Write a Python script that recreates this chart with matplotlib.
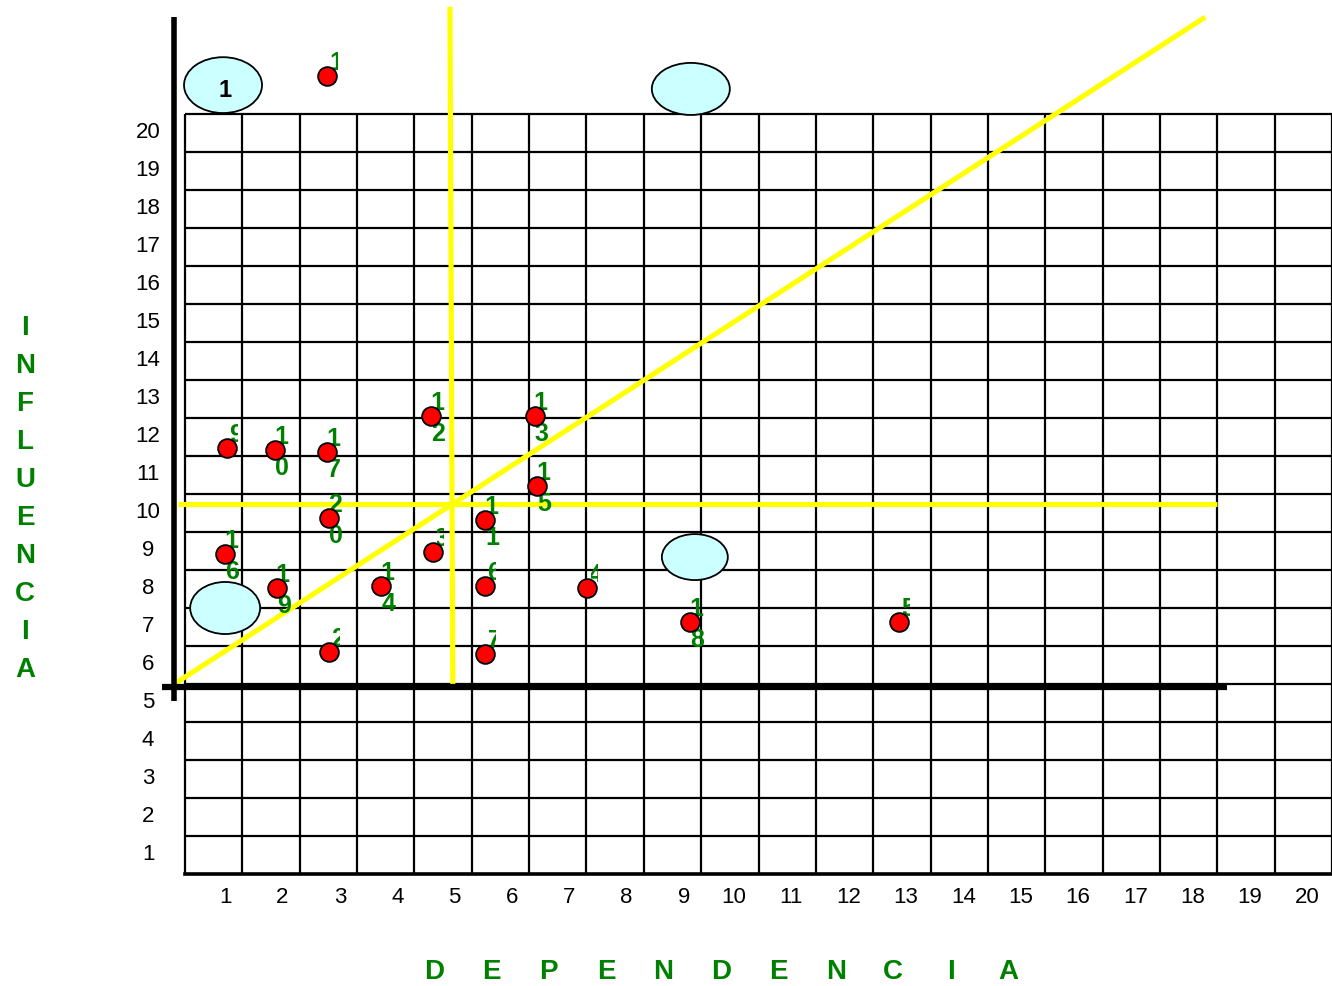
import matplotlib
matplotlib.use('Agg')
import matplotlib.pyplot as plt
from matplotlib.patches import Ellipse
from matplotlib.transforms import Bbox, TransformedBbox

plt.rcParams['font.family'] = ['Liberation Sans', 'DejaVu Sans']

# ---------------- data ----------------
var_labels = ["1", "9", "10", "17", "12", "13", "15", "11", "20", "3",
              "16", "19", "14", "6", "4", "2", "7", "18", "5"]
dependencia = [2.48, 0.73, 1.57, 2.48, 4.29, 6.10, 6.14, 5.23, 2.51, 4.32,
               0.70, 1.60, 3.42, 5.23, 7.01, 2.51, 5.23, 8.81, 12.45]
influencia = [21.0, 11.21, 11.16, 11.10, 12.05, 12.05, 10.21, 9.32, 9.37, 8.47,
              8.42, 7.53, 7.58, 7.58, 7.53, 5.84, 5.79, 6.63, 6.63]

x_ticks = list(range(1, 21))
y_ticks = list(range(1, 21))
x_title = "D E P E N D E N C I A"
y_title = "INFLUENCIA"

# threshold / reference lines (data units)
h_line_y = 9.74
v_line = ((4.62, 22.82), (4.67, 4.97))
diag = ((-0.157, 5.03), (17.79, 22.55))

# ellipses: (x, y, w, h, text)
ellipses = [(0.663, 20.76, 1.36, 1.47, "1"),
            (8.82, 20.66, 1.36, 1.37, ""),
            (8.89, 8.34, 1.15, 1.21, ""),
            (0.70, 7.00, 1.22, 1.37, "")]

# ---------------- figure ----------------
W, H = 1332, 987
fig = plt.figure(figsize=(W / 100, H / 100), dpi=100)
ax = fig.add_axes([185 / W, (H - 875) / H, (1332 - 185) / W, 760 / H])
ax.set_xlim(0, 20)
ax.set_ylim(0, 20)
ax.set_axis_off()

px_x = 20 / (1332 - 185)  # data per pixel horizontally
px_y = 20 / 760

GREEN = '#008000'

# grid
for i in range(0, 21):
    ax.plot([i, i], [0, 20], color='black', lw=1.6, zorder=1, clip_on=False,
            solid_capstyle='butt')
for j in range(1, 21):
    ax.plot([0, 20], [j, j], color='black', lw=1.6, zorder=1, clip_on=False,
            solid_capstyle='butt')
ax.plot([0, 20], [0, 0], color='black', lw=2.6, zorder=1, clip_on=False)

# black main axes
ax.plot([-0.19, -0.19], [4.55, 22.55], color='black', lw=4, zorder=5,
        clip_on=False, solid_capstyle='butt')
ax.plot([-0.40, 18.17], [4.92, 4.92], color='black', lw=4.5, zorder=5,
        clip_on=False, solid_capstyle='butt')

# yellow lines
YEL = '#FFFF00'
ax.plot([v_line[0][0], v_line[1][0]], [v_line[0][1], v_line[1][1]],
        color=YEL, lw=3.7, zorder=2, clip_on=False, solid_capstyle='butt')
ax.plot([-0.12, 18.0], [h_line_y, h_line_y], color=YEL, lw=3.7, zorder=2,
        clip_on=False, solid_capstyle='butt')
ax.plot([diag[0][0], diag[1][0]], [diag[0][1], diag[1][1]], color=YEL,
        lw=3.7, zorder=2, clip_on=False, solid_capstyle='butt')

# ellipses
for ex, ey, ew, eh, et in ellipses:
    e = Ellipse((ex, ey), ew, eh, facecolor='#CCFFFF', edgecolor='black',
                lw=1.3, zorder=3, clip_on=False)
    ax.add_patch(e)
    if et:
        ax.text(ex + 2 * px_x, ey - 4 * px_y, et, ha='center', va='center',
                fontsize=17, fontweight='bold', color='black', zorder=4,
                clip_on=False)

# points
ax.plot(dependencia, influencia, 'o', ms=13.5, mfc='#FF0000', mec='black',
        mew=1.3, zorder=6, clip_on=False, linestyle='none')

# labels
for lab, x, y in zip(var_labels, dependencia, influencia):
    if len(lab) == 2:
        ax.text(x + 6 * px_x, y + 14 * px_y, lab[0], ha='center', va='center',
                fontsize=18, fontweight='bold', color=GREEN, zorder=5, clip_on=False)
        ax.text(x + 7 * px_x, y - 17 * px_y, lab[1], ha='center', va='center',
                fontsize=18, fontweight='bold', color=GREEN, zorder=5, clip_on=False)
    else:
        t = ax.text(x + 9 * px_x, y + 14 * px_y, lab, ha='center', va='center',
                    fontsize=18, fontweight='bold', color=GREEN, zorder=5)
        bb = Bbox.from_bounds(x + 4 * px_x, y + 4 * px_y, 7 * px_x, 20 * px_y)
        t.set_clip_box(TransformedBbox(bb, ax.transData))
        t.set_clip_on(True)

# tick labels
for v in y_ticks:
    ax.text(-37 * px_x, v - 0.4 - 2 * px_y, str(v), ha='center', va='center',
            fontsize=16, color='black', clip_on=False)
for v in x_ticks:
    off = 0.3 if v < 10 else 0.43
    ax.text(v - off, -23 * px_y, str(v), ha='center', va='center', fontsize=16,
            color='black', clip_on=False)

# axis titles
xt = x_title.split(' ')
for k, ch in enumerate(xt):
    ax.text((434 - 185 + k * 57.4) * px_x, -(972 - 875) * px_y, ch, ha='center',
            va='center', fontsize=20, fontweight='bold', color=GREEN, clip_on=False)
for k, ch in enumerate(y_title):
    ax.text((25 - 185) * px_x, (875 - 328 - k * 38) * px_y, ch, ha='center',
            va='center', fontsize=20, fontweight='bold', color=GREEN, clip_on=False)

fig.savefig('out.png', dpi=100)
